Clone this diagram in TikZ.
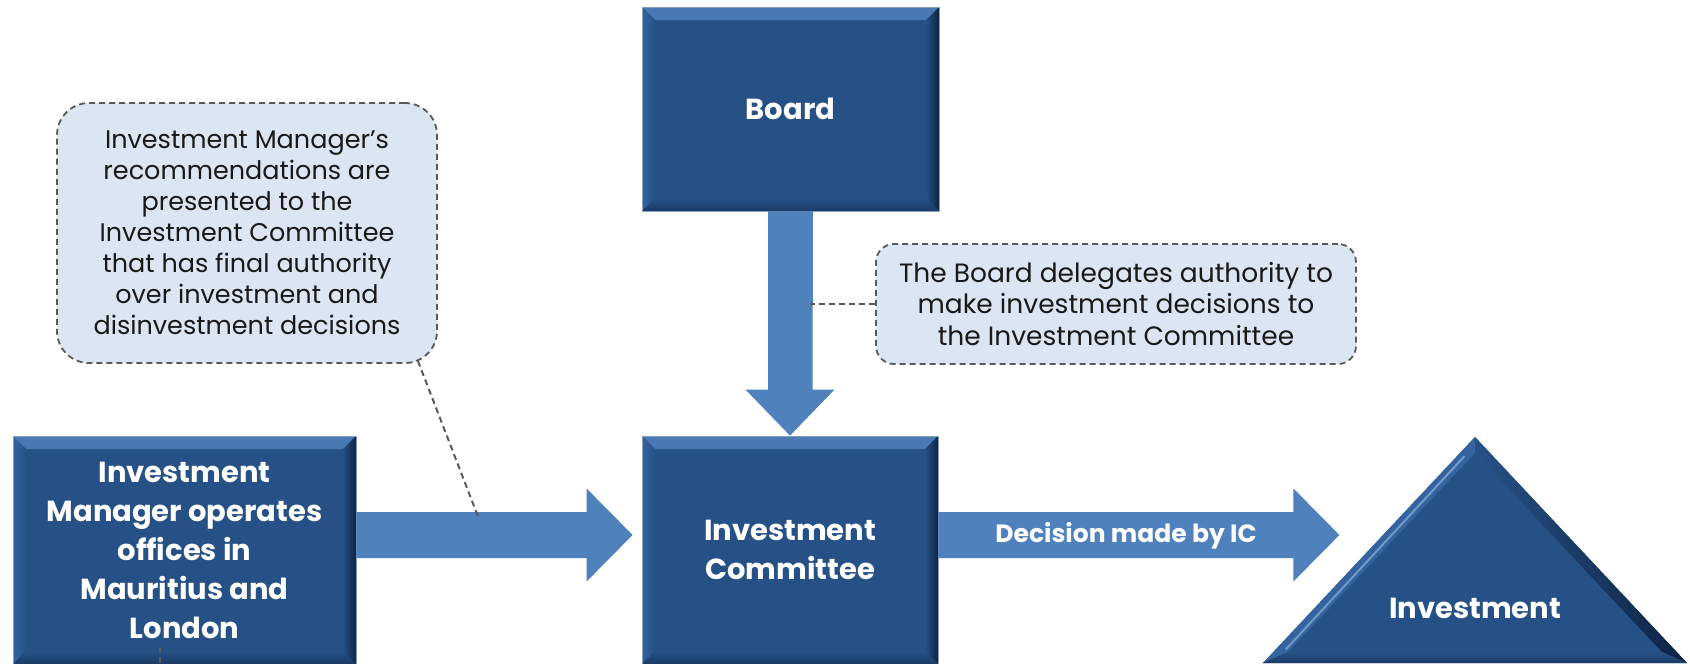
\documentclass[tikz,border=0pt]{standalone}
\usepackage{fontspec}
\setmainfont{Poppins}
\usetikzlibrary{calc}

\definecolor{boxblue}{HTML}{265186}
\definecolor{bevtop}{HTML}{4A7AB4}
\definecolor{bevleft}{HTML}{3463A0}
\definecolor{bevdark}{HTML}{0E2344}
\definecolor{bevbot}{HTML}{1A3B66}
\definecolor{arrowblue}{HTML}{4F81BD}
\definecolor{notefill}{HTML}{DCE6F2}
\definecolor{notedraw}{HTML}{595959}

\tikzset{
  bevelbox/.style={
    fill=boxblue, draw=boxblue!55!white, line width=0.8pt,
    inner sep=0pt, text=white, align=center,
    font=\bfseries\fontsize{29}{39}\selectfont,
    path picture={
      % top bevel
      \shade[top color=bevtop, bottom color=boxblue]
        (path picture bounding box.north west) -- (path picture bounding box.north east)
        -- ($(path picture bounding box.north east)+(-13pt,-13pt)$)
        -- ($(path picture bounding box.north west)+(13pt,-13pt)$) -- cycle;
      % left bevel
      \shade[left color=bevleft, right color=boxblue]
        (path picture bounding box.north west)
        -- ($(path picture bounding box.north west)+(13pt,-13pt)$)
        -- ($(path picture bounding box.south west)+(13pt,13pt)$)
        -- (path picture bounding box.south west) -- cycle;
      % right bevel
      \shade[left color=boxblue, right color=bevdark]
        (path picture bounding box.north east) -- (path picture bounding box.south east)
        -- ($(path picture bounding box.south east)+(-13pt,13pt)$)
        -- ($(path picture bounding box.north east)+(-13pt,-13pt)$) -- cycle;
      % bottom bevel
      \shade[top color=boxblue, bottom color=bevbot]
        (path picture bounding box.south west) -- (path picture bounding box.south east)
        -- ($(path picture bounding box.south east)+(-13pt,13pt)$)
        -- ($(path picture bounding box.south west)+(13pt,13pt)$) -- cycle;
    }
  },
  note/.style={
    fill=notefill, draw=notedraw, line width=1.8pt, dash pattern=on 6pt off 4pt,
    align=center, inner sep=0pt, text=black!90,
    font=\fontsize{25.5}{31}\selectfont
  },
  pointer/.style={draw=notedraw, line width=2pt, dash pattern=on 6pt off 4pt},
  blockarrow/.style={fill=arrowblue}
}

\begin{document}
\begin{tikzpicture}[x=1pt,y=-1pt]
\useasboundingbox (0,0) rectangle (1690,664);

% main boxes
\node[bevelbox, minimum width=297pt, minimum height=204pt] (board) at (790.5,109) {Board};
\node[bevelbox, minimum width=343pt, minimum height=228pt] (lm) at (184.5,550)
  {Investment\\Manager operates\\offices in\\Mauritius and\\London};
\node[bevelbox, minimum width=296pt, minimum height=228pt] (ic) at (790,550)
  {Investment\\Committee};

% investment triangle with bevelled edges
\coordinate (apex) at (1475,437);
\coordinate (bl) at (1263,663);
\coordinate (br) at (1687,663);
\coordinate (iapex) at (1475,453);
\coordinate (ibl) at (1288,652);
\coordinate (ibr) at (1662,652);
\fill[boxblue] (apex) -- (bl) -- (br) -- cycle;
\fill[bevleft] (apex) -- (bl) -- (ibl) -- (iapex) -- cycle;
\draw[arrowblue!80!white, line width=2pt] ($(apex)!0.05!(bl)+(0,8)$) -- ($(bl)!0.06!(apex)+(10,0)$);
\shade[left color=boxblue, right color=bevdark] (apex) -- (br) -- (ibr) -- (iapex) -- cycle;
\shade[top color=boxblue, bottom color=bevbot] (bl) -- (br) -- (ibr) -- (ibl) -- cycle;
\node[text=white, font=\bfseries\fontsize{29}{39}\selectfont] (inv) at (1475,608) {Investment};

% block arrow: Board -> Investment Committee
\fill[blockarrow] ($(board.south)+(-22.5,0)$) -- ($(ic.north)+(-22,-46)$)
  -- ($(ic.north)+(-44.5,-46)$) -- (ic.north) -- ($(ic.north)+(44.5,-46)$)
  -- ($(ic.north)+(22.5,-46)$) -- ($(board.south)+(22.5,0)$) -- cycle;

% block arrow: Investment Manager -> Investment Committee
\coordinate (t1) at ($(ic.west)+(-9,-15)$);
\fill[blockarrow] ($(lm.east |- t1)+(0,-23)$) -- ($(t1)+(-46,-23)$)
  -- ($(t1)+(-46,-46.5)$) -- (t1) -- ($(t1)+(-46,46.5)$)
  -- ($(t1)+(-46,23)$) -- ($(lm.east |- t1)+(0,23)$) -- cycle;

% block arrow: Investment Committee -> Investment
\coordinate (t2) at ($(ic.east)+(401,-15)$);
\fill[blockarrow] ($(ic.east |- t2)+(0,-23)$) -- ($(t2)+(-46,-23)$)
  -- ($(t2)+(-46,-46.5)$) -- (t2) -- ($(t2)+(-46,46.5)$)
  -- ($(t2)+(-46,23)$) -- ($(ic.east |- t2)+(0,23)$) -- cycle;
\node[text=white, font=\bfseries\fontsize{25}{28}\selectfont] (dec) at (1126,536) {Decision made by IC};

% callouts
\node[note, rounded corners=32pt, minimum width=380pt, minimum height=260pt] (n1) at (247,233)
  {Investment Manager’s\\recommendations are\\presented to the\\Investment Committee\\that has final authority\\over investment and\\disinvestment decisions};
\node[note, rounded corners=18pt, minimum width=480pt, minimum height=120pt,
      font=\fontsize{26.5}{31.5}\selectfont] (n2) at (1116,304)
  {The Board delegates authority to\\make investment decisions to\\the Investment Committee};

% callout pointers
\coordinate (p1) at ($(n1.south east)+(-20,-3)$);
\coordinate (q1) at ($(t1)+(-154,-17)$);
\draw[pointer] (p1) -- (q1);
\coordinate (q2) at ($(n2.west)+(-65,0)$);
\draw[pointer] (n2.west) -- (q2);
\coordinate (s1) at (160,647);
\coordinate (s2) at (160,664);
\draw[pointer] (s1) -- (s2);
\end{tikzpicture}
\end{document}
